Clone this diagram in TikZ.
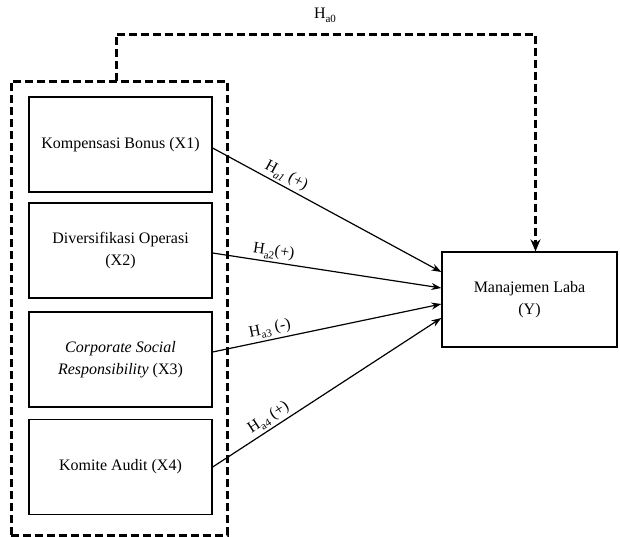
\documentclass[tikz,border=0pt]{standalone}
\usepackage{fontspec}
\setmainfont{Liberation Serif}
\usetikzlibrary{arrows.meta}
\newcommand{\hsub}[1]{\raisebox{-0.25em}{\fontsize{11}{12}\selectfont #1}}
\begin{document}
\begin{tikzpicture}[x=1pt,y=-1pt,
  varbox/.style={draw,line width=1.3pt,rectangle,minimum width=183pt,minimum height=95pt,align=center,font=\fontsize{16}{22}\selectfont,inner sep=0pt},
  grpbox/.style={draw,line width=3pt,dash pattern=on 8pt off 4pt,rectangle,minimum width=216pt,minimum height=454pt,inner sep=0pt},
  link/.style={line width=1.2pt,-{Stealth[length=10pt,width=7pt]}},
  dlink/.style={line width=3pt,dash pattern=on 8pt off 4pt,-{Stealth[length=12pt,width=10pt]}},
  hlab/.style={font=\fontsize{16}{18}\selectfont,inner sep=2pt}]
\useasboundingbox (0,0) rectangle (620,536);
\node[grpbox] (grp) at (119,308) {};
\node[varbox] (x1) at (120.5,144.5) {Kompensasi Bonus (X1)};
\node[varbox] (x2) at (120.5,250.5) {Diversifikasi Operasi\\(X2)};
\node[varbox] (x3) at (120.5,359.5) {\textit{Corporate Social}\\\textit{Responsibility} (X3)};
\node[varbox] (x4) at (120.5,467) {Komite Audit (X4)};
\node[varbox,minimum width=175pt] (y) at (529.5,299.5) {Manajemen Laba\\(Y)};
\coordinate (gtop) at (116,81);
\coordinate (ytop) at ([xshift=6pt]y.north);
\draw[dlink] (gtop) -- (116,34) -| (ytop);
\node[hlab] (h0) at (325,15) {H\hsub{a0}};
\draw[link] ([yshift=-3.5pt]x1.east) -- node[hlab,pos=0.3,sloped,above] (h1) {H\hsub{\textit{a1}} (+)} ([yshift=27.5pt]y.west);
\draw[link] ([yshift=-2.5pt]x2.east) -- node[hlab,pos=0.26,sloped,above] (h2) {H\hsub{a2}(+)} ([yshift=11.5pt]y.west);
\draw[link] ([yshift=7.5pt]x3.east) -- node[hlab,pos=0.26,sloped,above] (h3) {H\hsub{a3} (-)} ([yshift=-4.5pt]y.west);
\draw[link] (x4.east) -- node[hlab,pos=0.27,sloped,above] (h4) {H\hsub{a4} (+)} ([yshift=-18.5pt]y.west);
\end{tikzpicture}
\end{document}
